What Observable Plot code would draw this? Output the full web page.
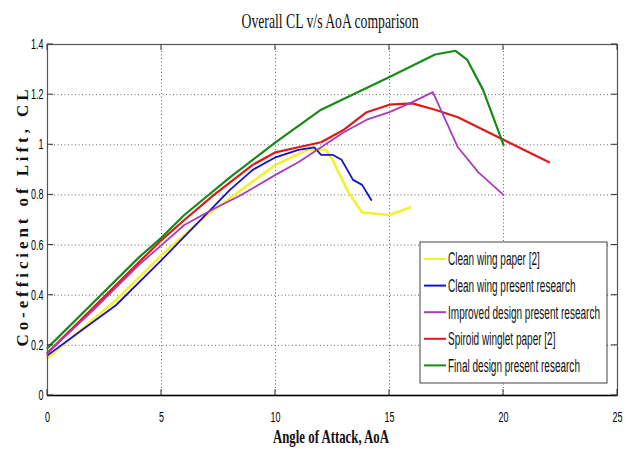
<!DOCTYPE html>
<html><head><meta charset="utf-8">
<script src="https://cdn.jsdelivr.net/npm/d3@7"></script>
<script src="https://cdn.jsdelivr.net/npm/@observablehq/plot@0.6"></script>
<style>body{margin:0;background:#fff;} #chart{position:relative;width:630px;height:450px;}</style>
</head><body><div id="chart"></div>
<script>
const titleText = "Overall CL v/s AoA comparison";
const xLabelText = "Angle of Attack, AoA";
const yLabelText = "Co-efficient of Lift, CL";

const seriesNames = ["Clean wing paper [2]", "Clean wing present research", "Improved design present research", "Spiroid winglet paper [2]", "Final design present research"];
const seriesColors = ["#f4f032", "#1414c8", "#a83cbc", "#dc1a1a", "#178a17"];

const cleanPaperAoA = [0, 3, 5, 7, 10, 11.4, 12.2, 12.5, 13.2, 13.8, 15, 15.9];
const cleanPaperCL  = [0.15, 0.38, 0.56, 0.72, 0.92, 0.98, 0.98, 0.94, 0.81, 0.73, 0.72, 0.75];

const cleanPresentAoA = [0, 1.5, 3, 5, 8, 9, 10, 11, 11.7, 12, 12.5, 12.9, 13.4, 13.8, 14.2];
const cleanPresentCL  = [0.16, 0.26, 0.36, 0.54, 0.82, 0.90, 0.95, 0.98, 0.99, 0.96, 0.96, 0.94, 0.86, 0.84, 0.78];

const improvedAoA = [0, 2, 4, 5, 6, 7.3, 8.5, 10, 11, 12, 13, 14, 15, 16, 16.9, 18, 18.9, 20];
const improvedCL  = [0.17, 0.34, 0.52, 0.60, 0.68, 0.745, 0.80, 0.88, 0.93, 0.99, 1.05, 1.10, 1.13, 1.17, 1.21, 0.99, 0.89, 0.80];

const spiroidAoA = [0, 2, 4, 5, 6, 7.3, 9, 10, 11, 12, 13, 14, 15, 16, 17, 18, 20, 22];
const spiroidCL  = [0.17, 0.35, 0.53, 0.62, 0.70, 0.80, 0.92, 0.97, 0.99, 1.01, 1.06, 1.13, 1.16, 1.165, 1.14, 1.11, 1.02, 0.93];

const finalAoA = [0, 2, 4, 5, 6, 8, 10, 12, 15, 17, 17.9, 18.4, 19.1, 20];
const finalCL  = [0.19, 0.37, 0.55, 0.63, 0.72, 0.87, 1.01, 1.14, 1.27, 1.36, 1.375, 1.34, 1.22, 1.00];

const xTicks = [0, 5, 10, 15, 20, 25];
const yTicks = [0, 0.2, 0.4, 0.6, 0.8, 1, 1.2, 1.4];
const xTickLabels = ["0", "5", "10", "15", "20", "25"];
const yTickLabels = ["0", "0.2", "0.4", "0.6", "0.8", "1", "1.2", "1.4"];

const seriesAoA = [cleanPaperAoA, cleanPresentAoA, improvedAoA, spiroidAoA, finalAoA];
const seriesCL = [cleanPaperCL, cleanPresentCL, improvedCL, spiroidCL, finalCL];
const seriesWidths = [2.6, 1.8, 1.8, 2.2, 2.2];
const drawOrder = [0, 1, 3, 2, 4];

const tables = seriesAoA.map((xs, s) => xs.map((x, i) => ({aoa: x, cl: seriesCL[s][i], series: seriesNames[s]})));

const W = 630, H = 450, ML = 47, MR = 13, MT = 44, MB = 55, TICK = 6;

const plot = Plot.plot({
  width: W, height: H,
  marginLeft: ML, marginRight: MR, marginTop: MT, marginBottom: MB,
  style: {fontFamily: "Liberation Sans, Arial, sans-serif"},
  x: {domain: [0, 25]},
  y: {domain: [0, 1.4]},
  marks: [
    Plot.ruleY(yTicks.slice(1, -1), {stroke: "#666", strokeDasharray: "1,2.5"}),
    Plot.ruleX(xTicks.slice(1, -1), {stroke: "#666", strokeDasharray: "1,2.5"}),
    ...drawOrder.map(s => Plot.line(tables[s], {x: "aoa", y: "cl", stroke: seriesColors[s], strokeWidth: seriesWidths[s], strokeLinejoin: "round"})),
    Plot.frame({stroke: "#555", strokeWidth: 1.2}),
    Plot.ruleY([0], {stroke: "#000", strokeWidth: 1.6}),
    Plot.axisX(xTicks, {anchor: "bottom", tickSize: 0, tickPadding: 17, fontSize: 14, label: null, tickFormat: d => xTickLabels[xTicks.indexOf(d)]}),
    Plot.axisY(yTicks, {anchor: "left", tickSize: 0, tickPadding: 4, fontSize: 14, label: null, tickFormat: d => yTickLabels[yTicks.indexOf(d)]})
  ]
});
document.getElementById("chart").append(plot);

const sx = plot.scale("x"), sy = plot.scale("y");
const svg = d3.select(plot);
// inward tick marks on all four sides, placed with Plot's own scales
const tk = svg.append("g").attr("stroke", "#333").attr("stroke-width", 1);
const x0 = sx.apply(0), x1 = sx.apply(25), y0 = sy.apply(0), y1 = sy.apply(1.4);
xTicks.forEach(v => {
  const px = sx.apply(v);
  tk.append("line").attr("x1", px).attr("x2", px).attr("y1", y0).attr("y2", y0 - TICK);
  tk.append("line").attr("x1", px).attr("x2", px).attr("y1", y1).attr("y2", y1 + TICK);
});
yTicks.forEach(v => {
  const py = sy.apply(v);
  tk.append("line").attr("y1", py).attr("y2", py).attr("x1", x0).attr("x2", x0 + TICK);
  tk.append("line").attr("y1", py).attr("y2", py).attr("x1", x1).attr("x2", x1 - TICK);
});

function squeeze(el, factor) {
  const len = el.getComputedTextLength();
  if (len > 0) {
    el.setAttribute("textLength", (len * factor).toFixed(2));
    el.setAttribute("lengthAdjust", "spacingAndGlyphs");
  }
}
function fitTo(el, width, adjust) {
  el.setAttribute("textLength", width);
  el.setAttribute("lengthAdjust", adjust || "spacingAndGlyphs");
}
plot.querySelectorAll('g[aria-label="x-axis tick label"] text, g[aria-label="y-axis tick label"] text').forEach(t => squeeze(t, 0.64));

const title = svg.append("text").attr("x", 330).attr("y", 28).attr("text-anchor", "middle")
  .attr("font-family", "Liberation Serif, Times New Roman, serif").attr("font-size", 21).attr("fill", "#111").text(titleText);
fitTo(title.node(), 177);

const xl = svg.append("text").attr("x", 331).attr("y", 443).attr("text-anchor", "middle")
  .attr("font-family", "Liberation Serif, Times New Roman, serif").attr("font-size", 19).attr("font-weight", "bold").attr("fill", "#111").text(xLabelText);
fitTo(xl.node(), 116);

const yl = svg.append("text").attr("transform", "translate(28,218) rotate(-90)").attr("text-anchor", "middle")
  .attr("font-family", "Liberation Serif, Times New Roman, serif").attr("font-size", 17).attr("font-weight", "bold").attr("fill", "#111").text(yLabelText);
fitTo(yl.node(), 257, "spacing");

// legend
const lg = svg.append("g").attr("text-anchor", "start");
lg.append("rect").attr("x", 420).attr("y", 242).attr("width", 187).attr("height", 141).attr("fill", "#fff").attr("stroke", "#444").attr("stroke-width", 1);
const legendTexts = [];
seriesNames.forEach((name, i) => {
  const y = 259 + i * 26.6;
  lg.append("line").attr("x1", 424).attr("x2", 446).attr("y1", y).attr("y2", y).attr("stroke", seriesColors[i]).attr("stroke-width", 2);
  const t = lg.append("text").attr("x", 448).attr("y", y).attr("dy", "0.36em").attr("text-anchor", "start").attr("font-family", "Liberation Sans, Arial, sans-serif").attr("font-size", 18).attr("fill", "#111").text(name);
  legendTexts.push(t.node());
});
const longest = legendTexts[2].getComputedTextLength();
const lf = 152 / longest;
legendTexts.forEach(t => squeeze(t, lf));
</script>
</body></html>
